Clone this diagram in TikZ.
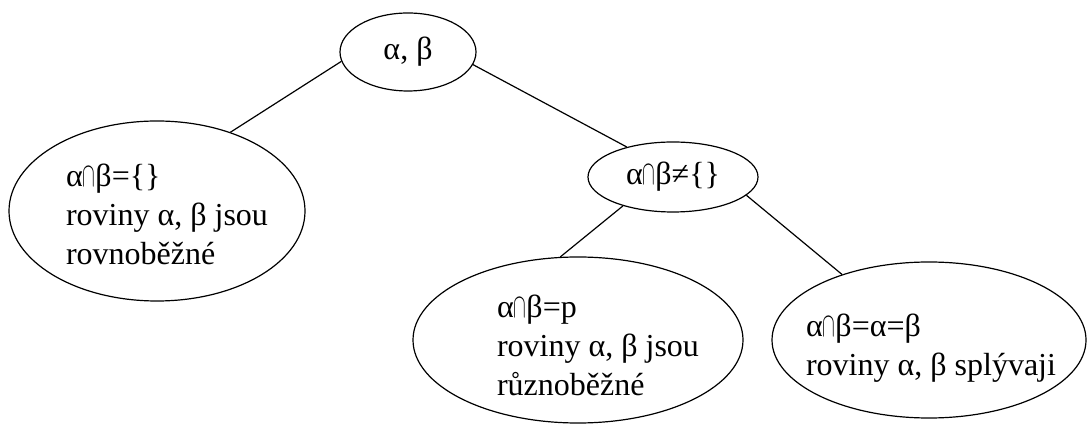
\documentclass[tikz,border=0pt]{standalone}
\usepackage{fontspec}
\setmainfont{Liberation Serif}
\newcommand{\isect}{\scalebox{0.55}[1]{$\cap$}}
\usetikzlibrary{shapes.geometric}

\begin{document}
\begin{tikzpicture}[x=0.5pt,y=-0.5pt,line width=0.6pt,
  oval/.style={draw,ellipse,inner sep=0pt},
  txt/.style={align=left,font=\fontsize{16}{19.5}\selectfont}]
\useasboundingbox (0,0) rectangle (1091,426);

% Ellipses
\node[oval,txt,minimum width=68pt,minimum height=39pt] (top) at (408,52) {α, β};
\node[oval,minimum width=148pt,minimum height=90pt] (par) at (157,211) {};
\node[oval,txt,minimum width=85pt,minimum height=35pt] (mid) at (673,177) {α\isect β≠\{\}};
\node[oval,minimum width=165pt,minimum height=83pt] (inter) at (578,340) {};
\node[oval,minimum width=157pt,minimum height=78pt] (same) at (929,340) {};

% Texts
\node[txt,xshift=5pt,yshift=-1.5pt] (partxt) at (par) {α\isect β=\{\}\\roviny α, β jsou\\rovnoběžné};
\node[txt,xshift=10pt,yshift=-2.5pt] (intertxt) at (inter) {α\isect β=p\\roviny α, β jsou\\různoběžné};
\node[txt,xshift=1pt,yshift=-4pt] (sametxt) at (same) {α\isect β=α=β\\roviny α, β splývaji};

% Branches
\draw (top.188) -- (par.47);
\draw (top.-11) -- (mid.147);
\draw (mid.210) -- (inter.102);
\draw (mid.-14) -- (same.143);
\end{tikzpicture}
\end{document}
